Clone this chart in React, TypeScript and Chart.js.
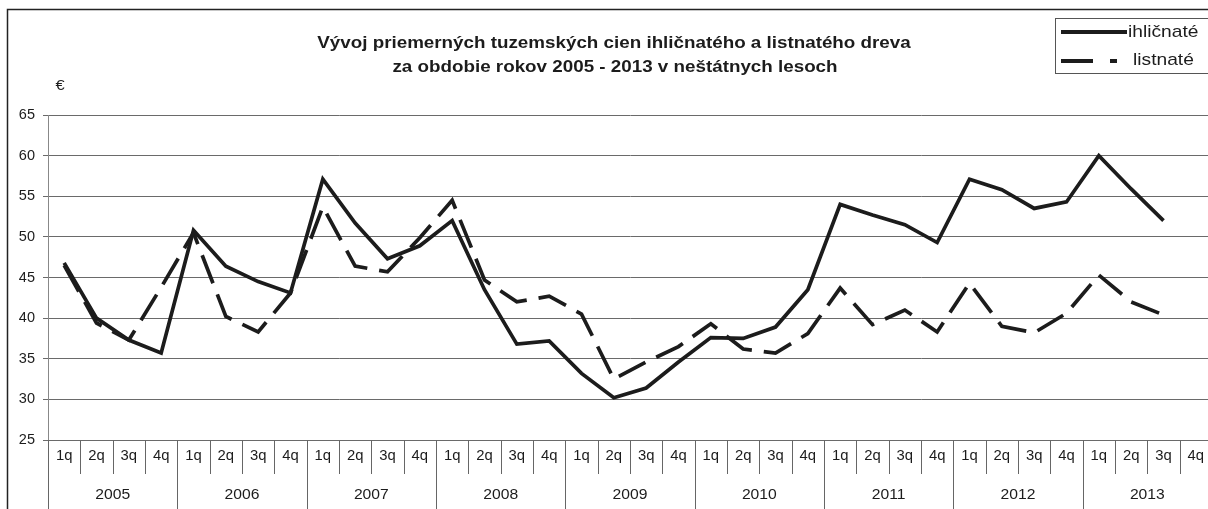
import { useEffect, useRef } from 'react';
import Chart from 'chart.js/auto';

const years = ['2005', '2006', '2007', '2008', '2009', '2010', '2011', '2012', '2013'];
const quarters = ['1q', '2q', '3q', '4q'];
const yTickValues = [25, 30, 35, 40, 45, 50, 55, 60, 65];

const ihlicnate = [
  46.8, 40.0, 37.3, 35.7,
  50.8, 46.4, 44.5, 43.1,
  57.1, 51.7, 47.3, 48.9,
  52.0, 43.5, 36.8, 37.2,
  33.2, 30.2, 31.4, 34.6,
  37.6, 37.5, 38.9, 43.5,
  54.0, 52.7, 51.5, 49.3,
  57.1, 55.8, 53.5, 54.3,
  60.0, 55.9, 52.0, null,
];

const listnate = [
  46.5, 39.4, 37.3, 43.8,
  50.5, 40.2, 38.3, 43.1,
  53.7, 46.4, 45.7, 49.9,
  54.5, 44.7, 42.0, 42.7,
  40.5, 32.5, 34.6, 36.5,
  39.3, 36.2, 35.7, 38.1,
  43.7, 39.2, 41.0, 38.3,
  44.3, 39.0, 38.2, 40.6,
  45.3, 42.0, 40.4, null,
];

const seriesNames = ['ihličnaté', 'listnaté'];
const titleLines = [
  'Vývoj priemerných tuzemských cien ihličnatého a listnatého dreva',
  'za obdobie rokov 2005 - 2013 v neštátnych lesoch',
];
const unitLabel = '€';

const categories: string[] = [];
years.forEach((y) => quarters.forEach((q) => categories.push(q + ' ' + y)));

const FONT = '"Liberation Sans", Arial, Helvetica, sans-serif';
const INK = '#1c1c1c';
const GRID = '#6a6a6a';
const DASH = [30, 12];

function stretchText(ctx: any, text: string, x: number, y: number, sx: number, align: string) {
  ctx.save();
  ctx.translate(x, y);
  ctx.scale(sx, 1);
  ctx.textAlign = align;
  ctx.fillText(text, 0, 0);
  ctx.restore();
}

const decorPlugin = {
  id: 'decor',
  beforeDraw(chart: any) {
    const ctx = chart.ctx;
    ctx.save();
    ctx.fillStyle = '#ffffff';
    ctx.fillRect(0, 0, chart.width, chart.height);
    ctx.restore();
  },
  afterDraw(chart: any) {
    const ctx = chart.ctx;
    const area = chart.chartArea;
    const xs = chart.scales.x;
    ctx.save();

    // outer chart border
    ctx.strokeStyle = '#222';
    ctx.lineWidth = 1.5;
    ctx.strokeRect(7.5, 9.5, chart.width + 10, chart.height + 10);

    // title
    ctx.fillStyle = INK;
    ctx.textBaseline = 'middle';
    ctx.font = 'bold 16px ' + FONT;
    stretchText(ctx, titleLines[0], 614, 44, 1.175, 'center');
    stretchText(ctx, titleLines[1], 615, 68, 1.175, 'center');

    // unit
    ctx.font = '15px ' + FONT;
    stretchText(ctx, unitLabel, 60, 86, 1.1, 'center');

    // category axis (two levels)
    const bottom = area.bottom;
    const step = xs.getPixelForValue(1) - xs.getPixelForValue(0);
    ctx.strokeStyle = '#666';
    ctx.lineWidth = 1;
    ctx.font = '14px ' + FONT;
    for (let i = 0; i < categories.length; i++) {
      const cx = xs.getPixelForValue(i);
      const left = Math.round(cx - step / 2) + 0.5;
      if (i > 0) {
        ctx.beginPath();
        ctx.moveTo(left, bottom);
        ctx.lineTo(left, bottom + (i % 4 === 0 ? 70 : 34));
        ctx.stroke();
      }
      stretchText(ctx, quarters[i % 4], cx, bottom + 16, 1.06, 'center');
    }
    // left axis extension
    ctx.beginPath();
    ctx.moveTo(area.left + 0.5, bottom);
    ctx.lineTo(area.left + 0.5, bottom + 70);
    ctx.stroke();
    years.forEach((y, k) => {
      const c = (xs.getPixelForValue(k * 4) + xs.getPixelForValue(k * 4 + 3)) / 2;
      stretchText(ctx, y, c, bottom + 55, 1.12, 'center');
    });

    // legend
    ctx.fillStyle = '#fff';
    ctx.fillRect(1055, 18, 200, 56);
    ctx.strokeStyle = '#555';
    ctx.lineWidth = 1;
    ctx.strokeRect(1055.5, 18.5, 200, 55);
    ctx.strokeStyle = INK;
    ctx.lineWidth = 4;
    ctx.beginPath();
    ctx.moveTo(1061, 32);
    ctx.lineTo(1127, 32);
    ctx.stroke();
    ctx.beginPath();
    ctx.moveTo(1061, 61);
    ctx.lineTo(1093, 61);
    ctx.moveTo(1110, 61);
    ctx.lineTo(1117, 61);
    ctx.stroke();
    ctx.fillStyle = INK;
    ctx.font = '17px ' + FONT;
    stretchText(ctx, seriesNames[0], 1128, 32, 1.13, 'left');
    stretchText(ctx, seriesNames[1], 1133, 60, 1.13, 'left');

    ctx.restore();
  },
};

export default function App() {
  const ref = useRef<HTMLCanvasElement | null>(null);

  useEffect(() => {
    if (!ref.current) return;
    Chart.defaults.font.family = FONT;
    const chart = new Chart(ref.current, {
      type: 'line',
      data: {
        labels: categories,
        datasets: [
          {
            label: seriesNames[0],
            data: ihlicnate,
            borderColor: INK,
            borderWidth: 3.7,
            pointRadius: 0,
            tension: 0,
            borderJoinStyle: 'miter',
            fill: false,
          },
          {
            label: seriesNames[1],
            data: listnate,
            borderColor: INK,
            borderWidth: 3.7,
            borderDash: DASH,
            pointRadius: 0,
            tension: 0,
            borderJoinStyle: 'miter',
            fill: false,
          },
        ],
      },
      options: {
        responsive: false,
        animation: false,
        events: [],
        devicePixelRatio: 1,
        layout: { padding: { left: 0, top: 115, right: 28, bottom: 15 } },
        plugins: {
          legend: { display: false },
          title: { display: false },
          tooltip: { enabled: false },
        },
        scales: {
          x: {
            type: 'category',
            offset: true,
            grid: { display: false },
            border: { display: false },
            ticks: { display: false },
            afterFit: (s: any) => {
              s.height = 65;
            },
          },
          y: {
            min: 25,
            max: 65,
            afterBuildTicks: (s: any) => {
              s.ticks = yTickValues.map((v) => ({ value: v }));
            },
            grid: { color: GRID, lineWidth: 1, tickLength: 5, drawTicks: true },
            border: { display: true, color: '#888', width: 1 },
            ticks: {
              color: INK,
              padding: 8,
              font: { size: 14.5, family: FONT },
            },
            afterFit: (s: any) => {
              s.width = 48;
            },
          },
        },
      },
      plugins: [decorPlugin],
    });
    return () => chart.destroy();
  }, []);

  return (
    <div
      style={{
        position: 'fixed',
        left: 0,
        top: 0,
        width: 1208,
        height: 509,
        overflow: 'hidden',
        background: '#fff',
      }}
    >
      <canvas ref={ref} width={1240} height={520} style={{ display: 'block' }} />
    </div>
  );
}
